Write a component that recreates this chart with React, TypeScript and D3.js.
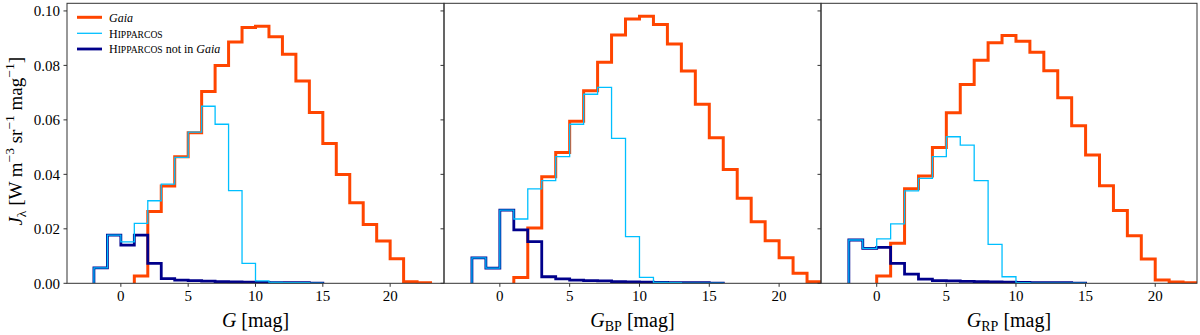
import * as d3 from 'd3'

// bin width is 1 mag; each series starts at the given left edge
const gaiaStartG = 1
const gaiaG = [0.0027, 0.0264, 0.0357, 0.0465, 0.0553, 0.0704, 0.080, 0.0886, 0.0939, 0.0944, 0.0905, 0.0841, 0.0743, 0.0627, 0.0513, 0.0399, 0.0296, 0.0216, 0.0155, 0.009, 0.0006, 0.0002]
const hipStartG = -2
const hipG = [0.0057, 0.0177, 0.0152, 0.022, 0.0303, 0.0364, 0.0462, 0.0555, 0.065, 0.0584, 0.034, 0.0073, 0.0009, 0.0003, 0.0002, 0.0002, 0.0001]
const hipNotG = [0.0057, 0.0177, 0.014, 0.0177, 0.0073, 0.0017, 0.0012, 0.001, 0.0008, 0.0006, 0.0005, 0.0004, 0.0003, 0.0002, 0.0002, 0.0002, 0.0001]

const gaiaStartBP = 1
const gaiaBP = [0.0021, 0.0203, 0.0391, 0.048, 0.0595, 0.0707, 0.0812, 0.0912, 0.097, 0.098, 0.095, 0.0879, 0.0779, 0.0657, 0.0534, 0.0418, 0.0312, 0.0226, 0.0156, 0.0094, 0.0037, 0.0006]
const hipStartBP = -2
const hipBP = [0.0093, 0.0056, 0.0269, 0.0236, 0.0347, 0.0377, 0.0465, 0.0584, 0.0694, 0.0719, 0.0532, 0.0171, 0.0022, 0.0003, 0.0002, 0.0001, 0.0001, 0.0001]
const hipNotBP = [0.0093, 0.0056, 0.0269, 0.0196, 0.0153, 0.0024, 0.0016, 0.0012, 0.001, 0.0009, 0.0006, 0.0005, 0.0004, 0.0003, 0.0002, 0.0002, 0.0002, 0.0001]

const gaiaStartRP = 0
const gaiaRP = [0.0027, 0.0147, 0.0347, 0.0394, 0.0499, 0.0626, 0.073, 0.0819, 0.0883, 0.091, 0.0889, 0.0848, 0.078, 0.0681, 0.0578, 0.0471, 0.0358, 0.0267, 0.0175, 0.0089, 0.0012, 0.0005, 0.0002]
const hipStartRP = -2
const hipRP = [0.0159, 0.0128, 0.0163, 0.0218, 0.0339, 0.0385, 0.0465, 0.0538, 0.0507, 0.0377, 0.0143, 0.0024, 0.0002, 0.0001, 0.0001, 0.0001, 0.0001]
const hipNotRP = [0.0159, 0.0128, 0.0132, 0.0073, 0.0034, 0.0015, 0.001, 0.0009, 0.0007, 0.0006, 0.0005, 0.0004, 0.0003, 0.0002, 0.0002, 0.0002, 0.0001]

const xTicks = [0, 5, 10, 15, 20]
const yTicks = [0, 0.02, 0.04, 0.06, 0.08, 0.1]

const ORANGE = '#ff4500'
const SKY = '#00bfff'
const NAVY = '#00008b'
const FONT = '"Liberation Serif", "DejaVu Serif", serif'

const top = 3.3
const bottom = 283.3
const panelEdges = [67, 444, 821, 1197]

const panels = [
  { domain: [-4, 24], band: '', gaia: gaiaG, gaiaStart: gaiaStartG, hip: hipG, hipNot: hipNotG, hipStart: hipStartG },
  { domain: [-4, 23], band: 'BP', gaia: gaiaBP, gaiaStart: gaiaStartBP, hip: hipBP, hipNot: hipNotBP, hipStart: hipStartBP },
  { domain: [-4, 23], band: 'RP', gaia: gaiaRP, gaiaStart: gaiaStartRP, hip: hipRP, hipNot: hipNotRP, hipStart: hipStartRP },
]

const y = d3.scaleLinear().domain([0, 0.1028]).range([bottom, top])

function stepPath(x: d3.ScaleLinear<number, number>, start: number, vals: number[]) {
  const pts: [number, number][] = [[start, 0]]
  vals.forEach((v, i) => pts.push([start + i, v]))
  pts.push([start + vals.length, vals[vals.length - 1]])
  pts.push([start + vals.length, 0])
  const line = d3.line<[number, number]>()
    .x(d => x(d[0]))
    .y(d => y(d[1]))
    .curve(d3.curveStepAfter)
  return line(pts) || ''
}

function Panel({ i }: { i: number }) {
  const p = panels[i]
  const x0 = panelEdges[i]
  const x1 = panelEdges[i + 1]
  const x = d3.scaleLinear().domain(p.domain).range([x0, x1])
  const cx = (x0 + x1) / 2
  return (
    <g>
      <defs>
        <clipPath id={`clip${i}`}>
          <rect x={x0} y={top - 2} width={x1 - x0} height={bottom - top + 2} />
        </clipPath>
      </defs>
      <g clipPath={`url(#clip${i})`} fill="none" strokeLinejoin="miter">
        <path d={stepPath(x, p.gaiaStart, p.gaia)} stroke={ORANGE} strokeWidth={3} />
        <path d={stepPath(x, p.hipStart, p.hipNot)} stroke={NAVY} strokeWidth={2.8} />
        <path d={stepPath(x, p.hipStart, p.hip)} stroke={SKY} strokeWidth={1.3} />
      </g>
      <rect x={x0} y={top} width={x1 - x0} height={bottom - top} fill="none" stroke="#333" strokeWidth={1} />
      {xTicks.map(t => (
        <g key={t}>
          <line x1={x(t)} x2={x(t)} y1={bottom} y2={bottom + 3.5} stroke="#333" />
          <text x={x(t)} y={300.5} textAnchor="middle" fontSize={15} fontFamily={FONT}>{t}</text>
        </g>
      ))}
      {yTicks.map(t => (
        <g key={t}>
          <line x1={x0 - 3.5} x2={x0} y1={y(t)} y2={y(t)} stroke="#333" />
          {i === 0 && (
            <text x={x0 - 7} y={y(t)} dy="0.35em" textAnchor="end" fontSize={15} fontFamily={FONT}>{t.toFixed(2)}</text>
          )}
        </g>
      ))}
      <text x={cx} y={327} textAnchor="middle" fontSize={20} fontFamily={FONT}>
        <tspan fontStyle="italic">G</tspan>
        {p.band && <tspan fontSize={14} dy={4}>{p.band}</tspan>}
        <tspan dy={p.band ? -4 : 0}> [mag]</tspan>
      </text>
    </g>
  )
}

function Hip() {
  return (
    <>
      <tspan>H</tspan>
      <tspan fontSize={9.6}>IPPARCOS</tspan>
    </>
  )
}

function Legend() {
  const rows = [
    { color: ORANGE, w: 3, y: 17.3 },
    { color: SKY, w: 1.3, y: 33.3 },
    { color: NAVY, w: 2.8, y: 49 },
  ]
  return (
    <g fontFamily={FONT} fontSize={12}>
      {rows.map((r, k) => (
        <line key={k} x1={77} x2={102} y1={r.y} y2={r.y} stroke={r.color} strokeWidth={r.w} />
      ))}
      <text x={109} y={rows[0].y + 4.2} fontStyle="italic">Gaia</text>
      <text x={109} y={rows[1].y + 4.2}><Hip /></text>
      <text x={109} y={rows[2].y + 4.2}>
        <Hip />
        <tspan> not in </tspan>
        <tspan fontStyle="italic">Gaia</tspan>
      </text>
    </g>
  )
}

export default function App() {
  return (
    <svg width={1200} height={335} style={{ position: 'absolute', left: 0, top: 0, background: '#fff' }}>
      {panels.map((_, i) => <Panel key={i} i={i} />)}
      <Legend />
      <text transform={`translate(22,${(top + bottom) / 2 - 2}) rotate(-90)`} textAnchor="middle" fontSize={19} fontFamily={FONT}>
        <tspan fontStyle="italic">J</tspan>
        <tspan fontSize={13.5} dy={4}>λ</tspan>
        <tspan dy={-4}> [W m</tspan>
        <tspan fontSize={13.5} dy={-8}>−3</tspan>
        <tspan dy={8}> sr</tspan>
        <tspan fontSize={13.5} dy={-8}>−1</tspan>
        <tspan dy={8}> mag</tspan>
        <tspan fontSize={13.5} dy={-8}>−1</tspan>
        <tspan dy={8}>]</tspan>
      </text>
    </svg>
  )
}
